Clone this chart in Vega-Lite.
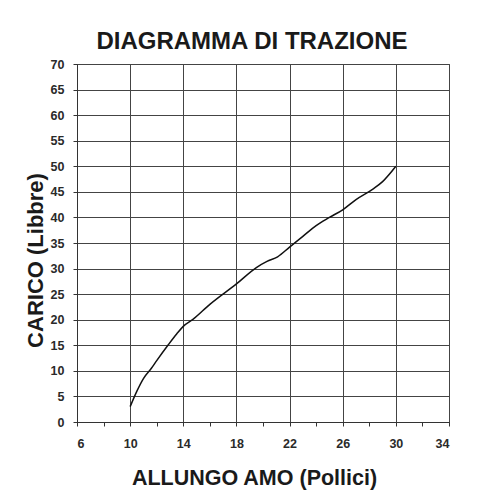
{
  "$schema": "https://vega.github.io/schema/vega-lite/v6.json",
  "autosize": "none",
  "width": 372,
  "height": 358,
  "padding": {"left": 77, "top": 64, "right": 39, "bottom": 81},
  "background": "#ffffff",
  "config": {
    "font": "Liberation Sans",
    "view": {"stroke": "#444", "strokeWidth": 1}
  },
  "title": {
    "text": "DIAGRAMMA DI TRAZIONE",
    "fontSize": 24,
    "fontWeight": "bold",
    "color": "#1a1a1a",
    "anchor": "middle",
    "dx": -11,
    "dy": 31,
    "baseline": "alphabetic",
    "offset": 16
  },
  "data": {
    "values": [
      {"x": 10, "y": 3},
      {"x": 10.5, "y": 6},
      {"x": 11, "y": 8.5},
      {"x": 11.6, "y": 10.5},
      {"x": 12, "y": 12},
      {"x": 12.9, "y": 15.2},
      {"x": 13.5, "y": 17.2},
      {"x": 14, "y": 18.7},
      {"x": 14.7, "y": 20},
      {"x": 16, "y": 23},
      {"x": 18, "y": 27},
      {"x": 19.5, "y": 30.2},
      {"x": 20.3, "y": 31.4},
      {"x": 21.1, "y": 32.3},
      {"x": 22, "y": 34.2},
      {"x": 23, "y": 36.3},
      {"x": 24, "y": 38.4},
      {"x": 25, "y": 40},
      {"x": 26, "y": 41.5},
      {"x": 27, "y": 43.5},
      {"x": 28.3, "y": 45.6},
      {"x": 29, "y": 47},
      {"x": 30, "y": 50}
    ]
  },
  "mark": {"type": "line", "color": "#111", "strokeWidth": 1.5, "interpolate": "monotone"},
  "encoding": {
    "x": {
      "field": "x",
      "type": "quantitative",
      "scale": {"domain": [6, 34], "nice": false, "zero": false},
      "axis": {
        "title": "ALLUNGO AMO (Pollici)",
        "titleFontSize": 21.5,
        "titleFontWeight": "bold",
        "titleColor": "#1a1a1a",
        "titleX": 177,
        "titleY": 62,
        "titleBaseline": "alphabetic",
        "values": [6, 8, 10, 12, 14, 16, 18, 20, 22, 24, 26, 28, 30, 32, 34],
        "labelExpr": "datum.value % 4 == 2 ? datum.label : ''",
        "labelFontSize": 12.5,
        "labelFontWeight": "bold",
        "labelColor": "#2a2a2a",
        "labelPadding": 11,
        "tickSize": 4,
        "tickColor": "#333",
        "domainColor": "#333",
        "grid": true,
        "gridColor": "#444",
        "gridOpacity": {"condition": {"test": "datum.value % 4 == 2", "value": 1}, "value": 0}
      }
    },
    "y": {
      "field": "y",
      "type": "quantitative",
      "scale": {"domain": [0, 70], "nice": false},
      "axis": {
        "title": "CARICO (Libbre)",
        "titleFontSize": 22,
        "titleFontWeight": "bold",
        "titleColor": "#1a1a1a",
        "titleX": -35,
        "titleY": 196,
        "titleBaseline": "alphabetic",
        "values": [0, 5, 10, 15, 20, 25, 30, 35, 40, 45, 50, 55, 60, 65, 70],
        "labelFontSize": 12.5,
        "labelFontWeight": "bold",
        "labelColor": "#2a2a2a",
        "labelPadding": 9,
        "tickSize": 4,
        "tickColor": "#333",
        "domainColor": "#333",
        "grid": true,
        "gridColor": "#444"
      }
    }
  }
}
